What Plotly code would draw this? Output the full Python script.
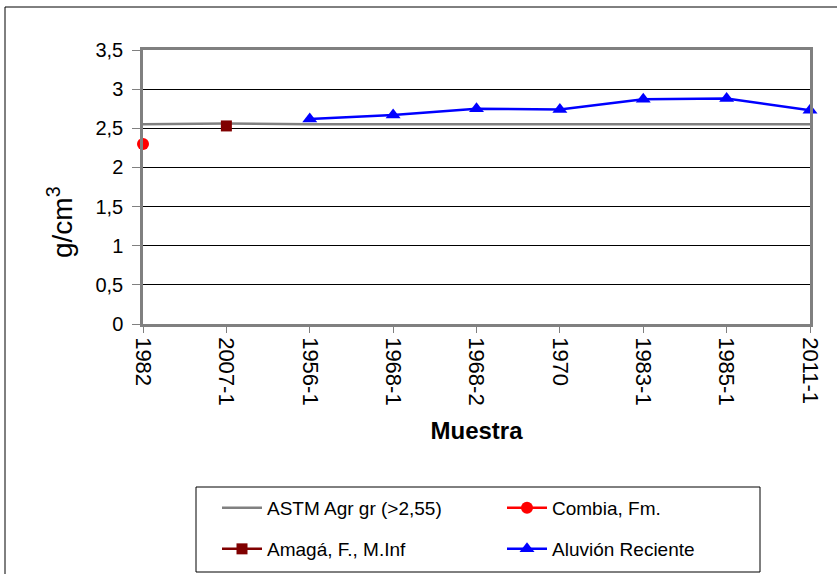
import plotly.graph_objects as go

categories = ["1982", "2007-1", "1956-1", "1968-1", "1968-2", "1970", "1983-1", "1985-1", "2011-1"]
astm = [2.55, 2.56, 2.55, 2.55, 2.55, 2.55, 2.55, 2.55, 2.55]
combia = [2.30, None, None, None, None, None, None, None, None]
amaga = [None, 2.53, None, None, None, None, None, None, None]
aluvion = [None, None, 2.62, 2.67, 2.75, 2.74, 2.87, 2.88, 2.73]
y_ticks = [0, 0.5, 1, 1.5, 2, 2.5, 3, 3.5]
y_tick_text = ["0", "0,5", "1", "1,5", "2", "2,5", "3", "3,5"]

FONT = "Liberation Sans, Arial, sans-serif"

fig = go.Figure()
fig.add_trace(go.Scatter(x=categories, y=astm, name="ASTM Agr gr (>2,55)", mode="lines",
                         line=dict(color="#808080", width=2.5), cliponaxis=False, legend="legend"))
fig.add_trace(go.Scatter(x=categories, y=combia, name="Combia, Fm.", mode="lines+markers",
                         line=dict(color="#FF0000", width=2.5),
                         marker=dict(symbol="circle", size=12, color="#FF0000"), cliponaxis=False,
                         legend="legend"))
fig.add_trace(go.Scatter(x=categories, y=amaga, name="Amagá, F., M.Inf", mode="lines+markers",
                         line=dict(color="#800000", width=2.5),
                         marker=dict(symbol="square", size=11, color="#800000"), cliponaxis=False,
                         legend="legend2"))
fig.add_trace(go.Scatter(x=categories, y=aluvion, name="Aluvión Reciente", mode="lines+markers",
                         line=dict(color="#0000FF", width=2.5),
                         marker=dict(symbol="triangle-up", size=13, color="#0000FF"), cliponaxis=False,
                         legend="legend2"))

legend_common = dict(orientation="h", xanchor="left", yanchor="middle",
                     entrywidth=230, entrywidthmode="pixels",
                     borderwidth=0, bgcolor="rgba(0,0,0,0)",
                     font=dict(size=19, family=FONT), itemwidth=40)

# paper coordinates: x 0..1 -> px 143..810, y 0..1 -> px 324..50
def px_to_paper_x(px):
    return (px - 143) / 667.0

def px_to_paper_y(py):
    return (324 - py) / 274.0

fig.update_layout(
    width=837, height=574,
    margin=dict(l=143, r=27, t=50, b=250, autoexpand=False),
    paper_bgcolor="white", plot_bgcolor="white",
    font=dict(family=FONT, size=18, color="black"),
    showlegend=True,
    legend=dict(x=px_to_paper_x(217), y=px_to_paper_y(508), **legend_common),
    legend2=dict(x=px_to_paper_x(217), y=px_to_paper_y(549), **legend_common),
    shapes=[
        dict(type="rect", xref="paper", yref="paper", x0=px_to_paper_x(5), x1=1.2,
             y0=-1.2, y1=px_to_paper_y(7),
             line=dict(color="black", width=1), fillcolor="rgba(0,0,0,0)", layer="below"),
        dict(type="rect", xref="paper", yref="paper", x0=px_to_paper_x(196), x1=px_to_paper_x(760),
             y0=px_to_paper_y(572), y1=px_to_paper_y(487),
             line=dict(color="black", width=1), fillcolor="rgba(0,0,0,0)", layer="below"),
    ],
    annotations=[
        dict(text="g/cm<sup>3</sup>", xref="paper", yref="paper",
             x=px_to_paper_x(60), y=px_to_paper_y(222), xanchor="center", yanchor="middle",
             textangle=-90, showarrow=False, font=dict(size=28, family=FONT, color="black")),
    ],
)
fig.update_xaxes(type="category", range=[0, 8], showgrid=False, automargin=False,
                 showline=True, linecolor="#808080", linewidth=2.5, mirror=True,
                 ticks="outside", tickcolor="#808080", ticklen=6, tickangle=90,
                 tickfont=dict(size=22, family=FONT),
                 title=dict(text="<b>Muestra</b>", font=dict(size=24, family=FONT), standoff=18))
fig.update_yaxes(range=[0, 3.5], tickvals=y_ticks, ticktext=y_tick_text, automargin=False,
                 showgrid=True, gridcolor="black", gridwidth=1,
                 showline=True, linecolor="#808080", linewidth=2.5, mirror=True,
                 ticks="outside", tickcolor="#808080", ticklen=8, zeroline=False,
                 ticklabelstandoff=5,
                 tickfont=dict(size=20, family=FONT))

fig.write_html("out.html", post_script="document.body.style.margin='0';",
               config={"displayModeBar": False})
